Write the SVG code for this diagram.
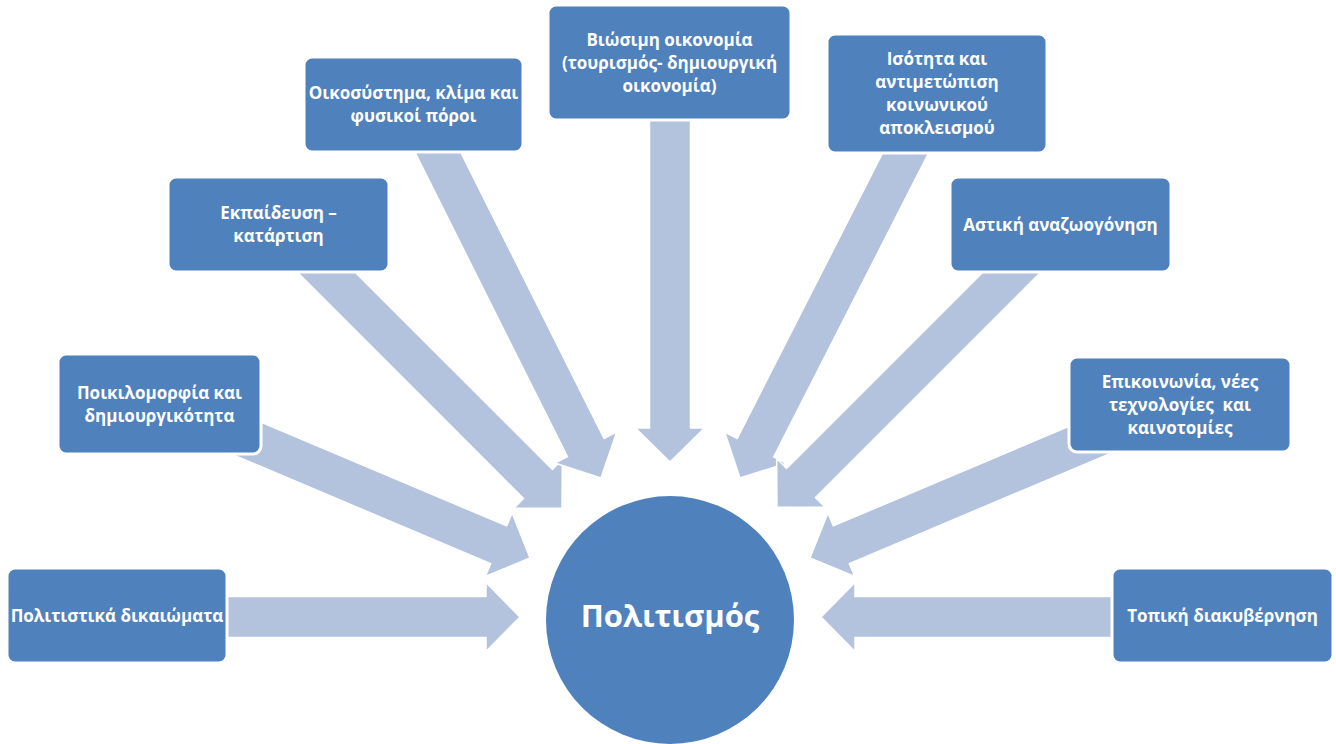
<svg xmlns="http://www.w3.org/2000/svg" width="1336" height="744" viewBox="0 0 1336 744">
<style>
.arrow{fill:#B3C2DD;stroke:#FFFFFF;stroke-width:1.5;stroke-linejoin:miter}
.box{fill:#4F81BD;stroke:#FFFFFF;stroke-width:3}
.lbl{font-family:"Open Sans","Noto Sans","DejaVu Sans",sans-serif;font-weight:bold;font-size:17px;fill:#FFFFFF;text-anchor:middle;white-space:pre}
.big{font-family:"Open Sans","Noto Sans","DejaVu Sans",sans-serif;font-weight:bold;font-size:31px;fill:#FFFFFF;text-anchor:middle}
</style>
<rect width="1336" height="744" fill="#FFFFFF"/>
<g id="connectors">
<polygon class="arrow" transform="translate(520,617) rotate(0)" points="-300,-20.5 -34,-20.5 -34,-34.5 0,0 -34,34.5 -34,20.5 -300,20.5"/>
<polygon class="arrow" transform="translate(530,558) rotate(22.9)" points="-340,-20.5 -34,-20.5 -34,-34.5 0,0 -34,34.5 -34,20.5 -340,20.5"/>
<polygon class="arrow" transform="translate(562,508) rotate(45)" points="-370,-20.5 -34,-20.5 -34,-34.5 0,0 -34,34.5 -34,20.5 -370,20.5"/>
<polygon class="arrow" transform="translate(601,478) rotate(63.4)" points="-385,-20.5 -34,-20.5 -34,-34.5 0,0 -34,34.5 -34,20.5 -385,20.5"/>
<polygon class="arrow" transform="translate(670,462) rotate(90)" points="-350,-20.5 -34,-20.5 -34,-34.5 0,0 -34,34.5 -34,20.5 -350,20.5"/>
<polygon class="arrow" transform="translate(740,478) rotate(117)" points="-385,-20.5 -34,-20.5 -34,-34.5 0,0 -34,34.5 -34,20.5 -385,20.5"/>
<polygon class="arrow" transform="translate(777,507) rotate(135)" points="-370,-20.5 -34,-20.5 -34,-34.5 0,0 -34,34.5 -34,20.5 -370,20.5"/>
<polygon class="arrow" transform="translate(810,558) rotate(157.1)" points="-340,-20.5 -34,-20.5 -34,-34.5 0,0 -34,34.5 -34,20.5 -340,20.5"/>
<polygon class="arrow" transform="translate(821,617) rotate(180)" points="-300,-20.5 -34,-20.5 -34,-34.5 0,0 -34,34.5 -34,20.5 -300,20.5"/>
</g>
<g id="center">
<circle cx="670" cy="620" r="124" fill="#4F81BD"/>
<text class="big" x="670" y="627">Πολιτισμός</text>
</g>
<g id="n1">
<rect class="box" x="7" y="568" width="220" height="95" rx="8"/>
<text class="lbl" x="117" y="621.5">Πολιτιστικά δικαιώματα</text>
</g>
<g id="n2">
<rect class="box" x="58" y="354" width="203" height="100" rx="8"/>
<text class="lbl" x="159.5" y="398.5">Ποικιλομορφία και</text>
<text class="lbl" x="159.5" y="421.5">δημιουργικότητα</text>
</g>
<g id="n3">
<rect class="box" x="168" y="177" width="221" height="95" rx="8"/>
<text class="lbl" x="278.5" y="219">Εκπαίδευση –</text>
<text class="lbl" x="278.5" y="242">κατάρτιση</text>
</g>
<g id="n4">
<rect class="box" x="304" y="57" width="219" height="95" rx="8"/>
<text class="lbl" x="413.5" y="99">Οικοσύστημα, κλίμα και</text>
<text class="lbl" x="413.5" y="122">φυσικοί πόροι</text>
</g>
<g id="n5">
<rect class="box" x="548" y="5" width="243" height="115" rx="8"/>
<text class="lbl" x="669.5" y="45.5">Βιώσιμη οικονομία</text>
<text class="lbl" x="669.5" y="68.5">(τουρισμός- δημιουργική</text>
<text class="lbl" x="669.5" y="91.5">οικονομία)</text>
</g>
<g id="n6">
<rect class="box" x="827" y="34" width="220" height="119" rx="8"/>
<text class="lbl" x="937" y="65">Ισότητα και</text>
<text class="lbl" x="937" y="88">αντιμετώπιση</text>
<text class="lbl" x="937" y="111">κοινωνικού</text>
<text class="lbl" x="937" y="134">αποκλεισμού</text>
</g>
<g id="n7">
<rect class="box" x="950" y="177" width="221" height="95" rx="8"/>
<text class="lbl" x="1060.5" y="230.5">Αστική αναζωογόνηση</text>
</g>
<g id="n8">
<rect class="box" x="1069" y="357" width="222" height="95" rx="8"/>
<text class="lbl" x="1180" y="387.5">Επικοινωνία, νέες</text>
<text class="lbl" x="1180" y="410.5">τεχνολογίες  και</text>
<text class="lbl" x="1180" y="433.5">καινοτομίες</text>
</g>
<g id="n9">
<rect class="box" x="1112" y="568" width="221" height="95" rx="8"/>
<text class="lbl" x="1222.5" y="621.5">Τοπική διακυβέρνηση</text>
</g>
</svg>
